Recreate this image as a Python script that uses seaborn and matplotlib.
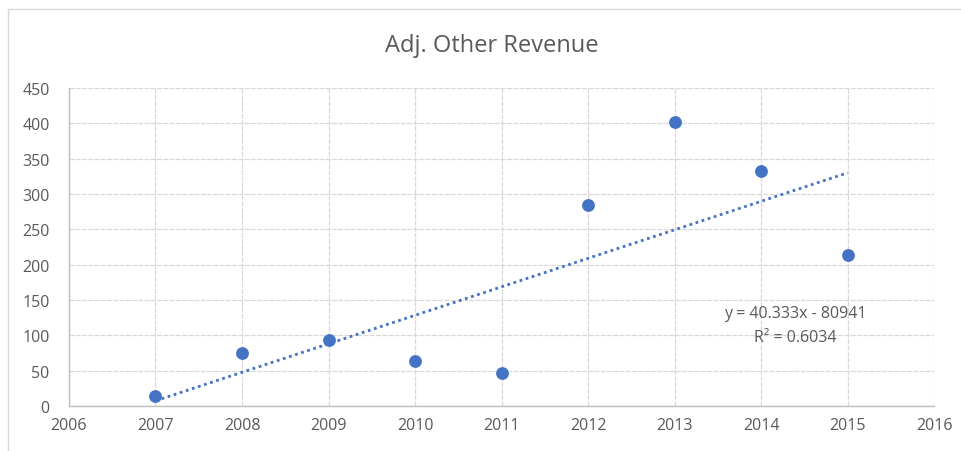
import numpy as np
import pandas as pd
import matplotlib
matplotlib.use("Agg")
import matplotlib.pyplot as plt
from matplotlib.lines import Line2D
import seaborn as sns

# data
years = [2007, 2008, 2009, 2010, 2011, 2012, 2013, 2014, 2015]
revenue = [14, 75, 93, 63, 47, 284, 402, 332, 213]

# trendline as reported by the chart
slope = 40.333
intercept = -80941
r_squared = 0.6034

x_ticks = list(range(2006, 2017))
y_ticks = list(range(0, 451, 50))

blue = "#4472C4"
grey_text = "#595959"
grid_col = "#D9D9D9"

sns.set_style("white")
plt.rcParams["font.family"] = ["Open Sans", "DejaVu Sans"]

fig = plt.figure(figsize=(9.62, 4.52), dpi=100)
ax = fig.add_axes([0.0717, 0.0996, 0.8993, 0.7034])

df = pd.DataFrame({"year": years, "revenue": revenue})
sns.scatterplot(data=df, x="year", y="revenue", ax=ax, s=85, color=blue,
                edgecolor=blue, linewidth=0, zorder=3)

# linear trendline between first and last year
tx = np.array([years[0], years[-1]])
ty = slope * tx + intercept
ax.plot(tx, ty, linestyle=(0, (1, 1.3)), linewidth=2, color=blue, zorder=2)

ax.set_xlim(x_ticks[0], x_ticks[-1])
ax.set_ylim(y_ticks[0], y_ticks[-1])
ax.set_xticks(x_ticks)
ax.set_yticks(y_ticks)
ax.set_xlabel("")
ax.set_ylabel("")
ax.grid(True, color=grid_col, linestyle=(0, (4, 1)), linewidth=0.9, zorder=0)
ax.set_axisbelow(True)

for side in ["top", "right"]:
    ax.spines[side].set_visible(False)
for side in ["left", "bottom"]:
    ax.spines[side].set_color("#BFBFBF")
    ax.spines[side].set_linewidth(1)

ax.tick_params(axis="both", length=0, labelsize=11.5, colors=grey_text)
ax.tick_params(axis="x", pad=8)
ax.tick_params(axis="y", pad=14)

ax.text(2014.4, 115, f"y = {slope}x - {abs(intercept)}\nR² = {r_squared}",
        ha="center", va="center", fontsize=11.5, color=grey_text, linespacing=1.65)

fig.text(0.511, 0.898, "Adj. Other Revenue", ha="center", va="center",
         fontsize=17, color=grey_text)

# chart area border (top and left edges visible)
fig.add_artist(Line2D([0.0083, 1.0], [0.978, 0.978], transform=fig.transFigure,
                      color=grid_col, linewidth=1))
fig.add_artist(Line2D([0.0083, 0.0083], [0.0, 0.978], transform=fig.transFigure,
                      color=grid_col, linewidth=1))

fig.savefig("out.png", dpi=100)
